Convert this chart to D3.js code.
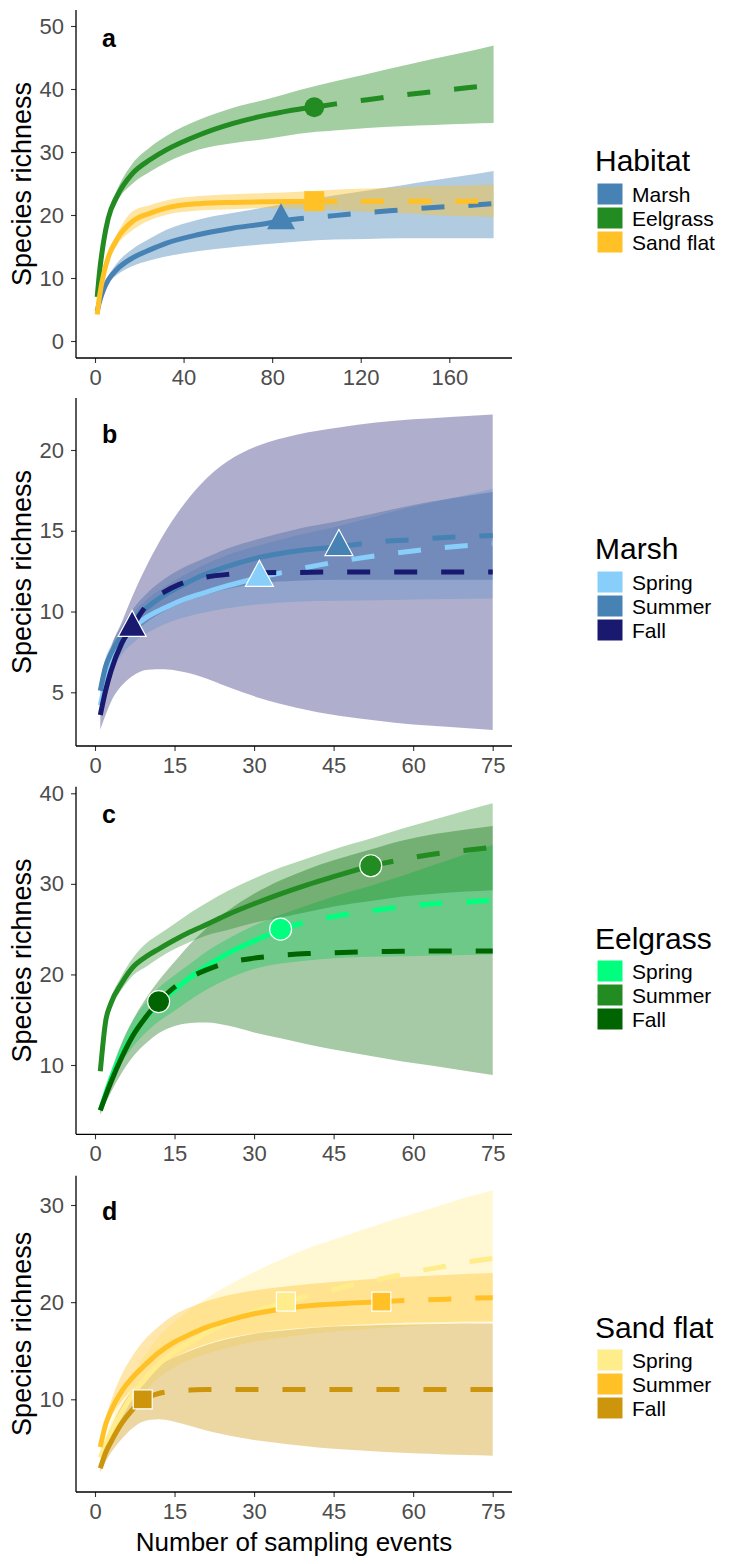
<!DOCTYPE html>
<html><head><meta charset="utf-8">
<script src="https://cdn.jsdelivr.net/npm/d3@7"></script>
<style>body{margin:0;background:#fff} svg{display:block} text{font-family:'Liberation Sans',Arial,Helvetica,sans-serif}</style>
</head><body>
<script>
// ---------------- DATA ----------------
// Panel a: habitats
const aCategories = ["Marsh", "Eelgrass", "Sand flat"];
const aX = [1, 2, 4, 6, 10, 17, 25, 32, 47, 62, 78, 92, 108, 123, 138, 153, 168, 180];
const aMarshEst = [4.7, 6.2, 8.3, 9.7, 11.4, 13.2, 14.5, 15.5, 16.9, 17.9, 18.7, 19.4, 19.9, 20.4, 20.8, 21.2, 21.5, 21.8];
const aMarshLo  = [4.5, 5.9, 7.8, 9.1, 10.5, 11.9, 12.8, 13.4, 14.3, 14.9, 15.4, 15.8, 16.1, 16.2, 16.3, 16.3, 16.3, 16.3];
const aMarshHi  = [4.9, 6.5, 8.8, 10.3, 12.4, 14.6, 16.3, 17.6, 19.3, 20.3, 21.3, 22.2, 23.1, 23.9, 24.7, 25.5, 26.3, 27.0];
const aEelEst = [7.0, 10.8, 16.0, 19.5, 23.0, 26.6, 28.8, 30.3, 32.7, 34.5, 35.9, 36.8, 37.6, 38.3, 39.0, 39.6, 40.2, 40.6];
const aEelLo  = [6.7, 10.4, 15.3, 18.6, 22.1, 25.0, 26.9, 28.3, 30.4, 31.4, 32.1, 32.9, 33.4, 33.8, 34.1, 34.3, 34.5, 34.6];
const aEelHi  = [7.3, 11.2, 16.7, 20.4, 24.0, 28.2, 30.8, 32.5, 35.1, 37.0, 38.4, 39.8, 41.2, 42.4, 43.6, 44.8, 45.9, 46.9];
const aSandEst = [4.2, 7.0, 10.8, 13.3, 16.2, 19.0, 20.3, 21.1, 21.8, 22.0, 22.1, 22.15, 22.2, 22.2, 22.2, 22.2, 22.2, 22.2];
const aSandLo  = [4.0, 6.6, 10.2, 12.6, 15.2, 17.6, 19.2, 20.0, 20.7, 20.9, 21.1, 21.0, 20.8, 20.5, 20.3, 20.0, 19.8, 19.7];
const aSandHi  = [4.4, 7.4, 11.4, 14.0, 17.0, 20.6, 21.6, 22.3, 23.0, 23.3, 23.5, 23.7, 24.0, 24.2, 24.4, 24.6, 24.7, 24.8];
const aObsX = [84, 99, 99];
const aObsY = [19.1, 37.1, 22.2];

// Panel b: Marsh seasons
const seasons = ["Spring", "Summer", "Fall"];
const bX = [1, 2, 3, 5, 7, 10, 13, 16, 20, 25, 31, 38, 46, 53, 60, 67, 75];
const bSpringEst = [4.2, 5.6, 6.7, 8.0, 8.9, 9.7, 10.2, 10.65, 11.1, 11.6, 12.1, 12.6, 13.1, 13.45, 13.75, 14.0, 14.2];
const bSpringLo  = [3.9, 5.2, 6.2, 7.3, 8.0, 8.7, 9.2, 9.55, 9.9, 10.2, 10.45, 10.6, 10.66, 10.7, 10.75, 10.78, 10.8];
const bSpringHi  = [4.5, 6.0, 7.2, 8.7, 9.8, 10.8, 11.5, 12.1, 12.8, 13.5, 14.1, 14.7, 15.3, 15.9, 16.5, 17.0, 17.6];
const bSummerEst = [5.1, 6.6, 7.4, 8.5, 9.4, 10.3, 11.0, 11.55, 12.2, 12.8, 13.35, 13.75, 14.0, 14.3, 14.45, 14.6, 14.7];
const bSummerLo  = [4.8, 6.1, 6.9, 7.9, 8.6, 9.4, 10.0, 10.5, 10.95, 11.4, 11.75, 11.9, 11.96, 11.96, 11.96, 11.96, 11.96];
const bSummerHi  = [5.4, 7.1, 7.9, 9.1, 10.1, 11.2, 12.0, 12.6, 13.2, 13.9, 14.5, 15.1, 15.6, 16.1, 16.6, 17.0, 17.4];
const bFallEst = [3.6, 5.1, 6.3, 8.0, 9.0, 10.5, 11.2, 11.7, 12.07, 12.3, 12.4, 12.42, 12.45, 12.45, 12.45, 12.45, 12.45];
const bFallLo  = [2.7, 3.6, 4.4, 5.4, 6.0, 6.4, 6.42, 6.3, 5.97, 5.35, 4.65, 4.05, 3.55, 3.25, 3.0, 2.85, 2.67];
const bFallHi  = [4.3, 6.3, 7.7, 9.3, 10.9, 13.0, 14.8, 16.3, 17.9, 19.3, 20.3, 20.95, 21.4, 21.7, 21.9, 22.05, 22.2];
const bObsX = [31, 46, 7];
const bObsY = [12.1, 14.0, 9.0];

// Panel c: Eelgrass seasons
const cX = [1, 2, 3, 5, 7, 10, 12, 15, 18, 21, 25, 30, 35, 40, 45, 52, 58, 64, 70, 75];
const cSpringEst = [5.0, 6.8, 8.5, 11.2, 13.3, 15.5, 16.7, 18.3, 19.7, 20.9, 22.3, 23.7, 25.0, 25.8, 26.4, 27.0, 27.5, 27.8, 28.0, 28.2];
const cSpringLo  = [4.7, 6.3, 7.8, 10.2, 11.9, 13.8, 14.8, 16.0, 17.2, 18.3, 19.5, 20.6, 21.2, 21.55, 21.8, 21.95, 22.0, 22.1, 22.15, 22.2];
const cSpringHi  = [5.3, 7.3, 9.2, 12.3, 14.8, 17.2, 18.5, 19.9, 21.2, 22.5, 23.9, 25.4, 26.6, 27.6, 28.6, 29.8, 30.9, 32.1, 33.3, 34.3];
const cSummerEst = [9.3, 14.8, 16.8, 19.0, 20.7, 22.1, 22.8, 23.8, 24.7, 25.5, 26.6, 27.8, 28.9, 29.9, 30.8, 32.0, 32.7, 33.3, 33.7, 34.05];
const cSummerLo  = [9.0, 14.3, 16.2, 18.3, 19.8, 21.0, 21.8, 22.8, 23.6, 24.3, 24.9, 25.7, 26.3, 26.9, 27.5, 28.1, 28.6, 28.9, 29.15, 29.3];
const cSummerHi  = [9.6, 15.3, 17.4, 19.8, 21.7, 23.6, 24.4, 25.6, 26.8, 27.9, 29.2, 30.6, 31.8, 32.8, 33.8, 35.0, 36.1, 37.1, 38.1, 38.9];
const cFallEst = [5.0, 6.6, 8.1, 10.8, 13.1, 15.6, 17.0, 18.6, 19.7, 20.5, 21.3, 21.8, 22.1, 22.3, 22.4, 22.5, 22.55, 22.6, 22.6, 22.6];
const cFallLo  = [4.5, 5.8, 7.0, 9.1, 10.8, 12.6, 13.5, 14.3, 14.65, 14.7, 14.35, 13.6, 12.95, 12.3, 11.7, 11.0, 10.4, 9.9, 9.35, 8.9];
const cFallHi  = [5.4, 7.3, 9.2, 12.4, 14.8, 17.7, 19.3, 21.4, 23.4, 25.1, 27.0, 28.9, 30.4, 31.6, 32.6, 33.8, 34.8, 35.5, 36.0, 36.4];
const cObsX = [35, 52, 12];
const cObsY = [25.0, 32.0, 17.0];

// Panel d: Sand flat seasons
const dX = [1, 2, 3, 5, 7, 9, 12, 15, 18, 21, 25, 30, 36, 42, 48, 54, 60, 66, 70, 75];
const dSpringEst = [4.0, 5.3, 6.6, 8.6, 10.4, 11.8, 13.6, 14.9, 15.9, 16.8, 17.9, 19.0, 20.05, 20.9, 21.7, 22.4, 23.1, 23.7, 24.1, 24.5];
const dSpringLo  = [3.7, 4.9, 6.0, 7.9, 9.4, 10.6, 12.2, 13.3, 14.1, 14.7, 15.3, 15.9, 16.4, 16.8, 17.1, 17.35, 17.55, 17.7, 17.8, 17.9];
const dSpringHi  = [4.3, 6.0, 7.6, 10.2, 12.4, 14.2, 16.4, 18.0, 19.3, 20.4, 21.7, 23.1, 24.6, 25.9, 27.0, 28.1, 29.1, 30.1, 30.8, 31.5];
const dSummerEst = [5.1, 7.4, 8.8, 10.8, 12.2, 13.3, 14.8, 15.9, 16.7, 17.4, 18.1, 18.8, 19.35, 19.7, 19.9, 20.05, 20.2, 20.3, 20.4, 20.45];
const dSummerLo  = [4.8, 6.9, 8.1, 9.8, 11.0, 12.0, 13.3, 14.3, 15.1, 15.7, 16.3, 16.8, 17.2, 17.45, 17.65, 17.8, 17.9, 17.95, 18.0, 18.0];
const dSummerHi  = [5.4, 8.0, 9.8, 12.5, 14.4, 15.9, 17.5, 18.7, 19.5, 20.1, 20.7, 21.2, 21.6, 21.95, 22.2, 22.45, 22.65, 22.8, 22.9, 23.0];
const dFallEst = [2.9, 4.5, 5.6, 7.5, 8.9, 10.0, 10.6, 10.85, 10.95, 11.0, 11.0, 11.0, 11.0, 11.0, 11.0, 11.0, 11.0, 11.0, 11.0, 11.0];
const dFallLo  = [2.5, 3.6, 4.5, 5.9, 7.0, 7.7, 7.95, 7.7, 7.25, 6.8, 6.3, 5.8, 5.4, 5.05, 4.8, 4.6, 4.45, 4.33, 4.27, 4.2];
const dFallHi  = [3.3, 5.4, 7.0, 9.3, 10.9, 12.1, 13.4, 14.3, 15.0, 15.6, 16.2, 16.75, 17.1, 17.4, 17.55, 17.65, 17.7, 17.75, 17.8, 17.8];
const dObsX = [36, 54, 9];
const dObsY = [20.05, 20.05, 10.0];

// Tick labels
const aXTicks = [0, 40, 80, 120, 160];
const seasonXTicks = [0, 15, 30, 45, 60, 75];
const aYTicks = [0, 10, 20, 30, 40, 50];
const bYTicks = [5, 10, 15, 20];
const cYTicks = [10, 20, 30, 40];
const dYTicks = [10, 20, 30];

// ---------------- STYLE / LAYOUT ----------------
const W = 736, H = 1564;
const axisLeft = 76, axisRight = 512;
const svg = d3.select("body").append("svg").attr("width", W).attr("height", H);

const panels = [
  { label: "a", title: "Habitat", cats: aCategories, x: aX,
    est: [aMarshEst, aEelEst, aSandEst], lo: [aMarshLo, aEelLo, aSandLo], hi: [aMarshHi, aEelHi, aSandHi],
    obsX: aObsX, obsY: aObsY, colors: ["#4682B4", "#228B22", "#FFC125"], shape: ["triangle", "circle", "square"],
    alpha: 0.42, outline: false,
    xDom: [0, 160], xRange: [95, 449.3], xTicks: aXTicks,
    yDom: [0, 50], yRange: [341, 26], yTicks: aYTicks,
    top: 10, bottom: 358, labelY: 47, legTitleY: 171, legKeyTop: 183 },
  { label: "b", title: "Marsh", cats: seasons, x: bX,
    est: [bSpringEst, bSummerEst, bFallEst], lo: [bSpringLo, bSummerLo, bFallLo], hi: [bSpringHi, bSummerHi, bFallHi],
    obsX: bObsX, obsY: bObsY, colors: ["#87CEFA", "#4682B4", "#191970"], shape: ["triangle", "triangle", "triangle"],
    alpha: 0.35, outline: true,
    xDom: [0, 75], xRange: [95, 492.7], xTicks: seasonXTicks,
    yDom: [5, 20], yRange: [692.3, 450], yTicks: bYTicks,
    top: 398, bottom: 746, labelY: 443, legTitleY: 559, legKeyTop: 571 },
  { label: "c", title: "Eelgrass", cats: seasons, x: cX,
    est: [cSpringEst, cSummerEst, cFallEst], lo: [cSpringLo, cSummerLo, cFallLo], hi: [cSpringHi, cSummerHi, cFallHi],
    obsX: cObsX, obsY: cObsY, colors: ["#00FF7F", "#228B22", "#006400"], shape: ["circle", "circle", "circle"],
    alpha: 0.35, outline: true,
    xDom: [0, 75], xRange: [95, 492.7], xTicks: seasonXTicks,
    yDom: [10, 40], yRange: [1065, 793.3], yTicks: cYTicks,
    top: 786.7, bottom: 1134.3, labelY: 823, legTitleY: 949, legKeyTop: 960 },
  { label: "d", title: "Sand flat", cats: seasons, x: dX,
    est: [dSpringEst, dSummerEst, dFallEst], lo: [dSpringLo, dSummerLo, dFallLo], hi: [dSpringHi, dSummerHi, dFallHi],
    obsX: dObsX, obsY: dObsY, colors: ["#FFEC8B", "#FFC125", "#CD950C"], shape: ["square", "square", "square"],
    alpha: 0.38, outline: true,
    xDom: [0, 75], xRange: [95, 492.7], xTicks: seasonXTicks,
    yDom: [10, 30], yRange: [1399.3, 1205], yTicks: dYTicks,
    top: 1175.7, bottom: 1492, labelY: 1220, legTitleY: 1338, legKeyTop: 1349 }
];

function markerPath(shape, big) {
  if (shape === "triangle") { const w = 28, h = 26; return `M0,${-2*h/3}L${w/2},${h/3}L${-w/2},${h/3}Z`; }
  if (shape === "square") { const s = big ? 20 : 19; return `M${-s/2},${-s/2}h${s}v${s}h${-s}Z`; }
  const r = big ? 10 : 11;
  return `M${r},0A${r},${r},0,1,1,${-r},0A${r},${r},0,1,1,${r},0Z`;
}

panels.forEach(p => {
  const x = d3.scaleLinear().domain(p.xDom).range(p.xRange);
  const y = d3.scaleLinear().domain(p.yDom).range(p.yRange);
  const g = svg.append("g");
  const clipId = "clip" + p.label;
  svg.append("clipPath").attr("id", clipId).append("rect")
    .attr("x", axisLeft).attr("y", p.top).attr("width", axisRight - axisLeft).attr("height", p.bottom - p.top);
  const plot = g.append("g").attr("clip-path", `url(#${clipId})`);

  const area = d3.area().x(d => x(d.x)).y0(d => y(d.lo)).y1(d => y(d.hi)).curve(d3.curveMonotoneX);
  const line = d3.line().x(d => x(d.x)).y(d => y(d.y)).curve(d3.curveMonotoneX);

  // ribbons
  p.cats.forEach((c, i) => {
    const pts = p.x.map((xv, j) => ({ x: xv, lo: p.lo[i][j], hi: p.hi[i][j] }));
    plot.append("path").attr("d", area(pts)).attr("fill", p.colors[i]).attr("fill-opacity", p.alpha);
  });
  // lines: solid up to observed sample size, dashed beyond
  p.cats.forEach((c, i) => {
    const ox = p.obsX[i], oy = p.obsY[i];
    const solid = p.x.map((xv, j) => ({ x: xv, y: p.est[i][j] })).filter(d => d.x < ox);
    solid.push({ x: ox, y: oy });
    const dashed = [{ x: ox, y: oy }].concat(p.x.map((xv, j) => ({ x: xv, y: p.est[i][j] })).filter(d => d.x > ox));
    plot.append("path").attr("d", line(solid)).attr("fill", "none").attr("stroke", p.colors[i]).attr("stroke-width", 5);
    plot.append("path").attr("d", line(dashed)).attr("fill", "none").attr("stroke", p.colors[i]).attr("stroke-width", 5)
      .attr("stroke-dasharray", "23,24");
  });
  // observed points
  p.cats.forEach((c, i) => {
    g.append("path").attr("d", markerPath(p.shape[i], !p.outline))
      .attr("transform", `translate(${x(p.obsX[i])},${y(p.obsY[i])})`)
      .attr("fill", p.colors[i])
      .attr("stroke", p.outline ? "#fff" : "none").attr("stroke-width", 1.2);
  });

  // axes
  const xa = g.append("g").attr("transform", `translate(0,${p.bottom})`)
    .call(d3.axisBottom(x).tickValues(p.xTicks).tickSize(5).tickPadding(6.4).tickFormat(d3.format("d")));
  const ya = g.append("g").attr("transform", `translate(${axisLeft},0)`)
    .call(d3.axisLeft(y).tickValues(p.yTicks).tickSize(5).tickPadding(7).tickFormat(d3.format("d")));
  [xa, ya].forEach(a => {
    a.select(".domain").remove();
    a.selectAll(".tick line").attr("stroke", "#333").attr("stroke-width", 1.1);
    a.selectAll(".tick text").attr("fill", "#4d4d4d").style("font-size", "22px")
      .style("font-family", "'Liberation Sans',Arial,sans-serif");
  });
  g.append("line").attr("x1", axisLeft).attr("x2", axisRight).attr("y1", p.bottom).attr("y2", p.bottom)
    .attr("stroke", "#000").attr("stroke-width", 1.3);
  g.append("line").attr("x1", axisLeft).attr("x2", axisLeft).attr("y1", p.top).attr("y2", p.bottom)
    .attr("stroke", "#000").attr("stroke-width", 1.3);

  // y title
  g.append("text").attr("transform", `translate(31,${(p.top + p.bottom) / 2}) rotate(-90)`)
    .attr("text-anchor", "middle").style("font-size", "27px").attr("fill", "#000").text("Species richness");
  // panel label
  g.append("text").attr("x", 102).attr("y", p.labelY).style("font-size", "25px").style("font-weight", "bold")
    .text(p.label);

  // legend
  g.append("text").attr("x", 595).attr("y", p.legTitleY).style("font-size", "30px").text(p.title);
  p.cats.forEach((c, i) => {
    const ky = p.legKeyTop + i * 24;
    g.append("rect").attr("x", 597).attr("y", ky).attr("width", 26).attr("height", 22)
      .attr("fill", p.colors[i]).attr("stroke", "#fff").attr("stroke-width", 1);
    g.append("text").attr("x", 632).attr("y", ky + 18.5).style("font-size", "21px").text(c);
  });
});

svg.append("text").attr("x", 294).attr("y", 1551).attr("text-anchor", "middle")
  .style("font-size", "26px").text("Number of sampling events");
</script>
</body></html>
